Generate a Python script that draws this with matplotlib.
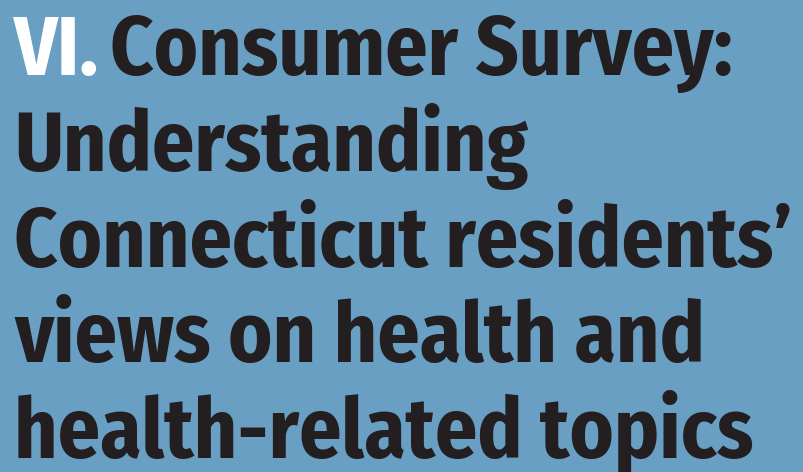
import matplotlib.pyplot as plt

plt.rcParams['font.family'] = ['Fira Sans Condensed', 'Roboto Condensed', 'DejaVu Sans']
plt.rcParams['font.stretch'] = 'condensed'

bg_color = '#6a9fc4'
ink = '#231f20'

section = 'VI.'
title_lines = ['Consumer Survey:',
               'Understanding',
               'Connecticut residents\u2019',
               'views on health and',
               'health-related topics']
baselines = [75, 171, 267, 362, 458]   # pixel rows from top

W, H = 804, 472
fig = plt.figure(figsize=(W / 100, H / 100), dpi=100, facecolor=bg_color)

fs = 60
fig.text(14 / W, 1 - baselines[0] / H, section, color='white', fontsize=fs,
         fontweight='bold', ha='left', va='baseline')
for i, line in enumerate(title_lines):
    x = 110 if i == 0 else 14
    fig.text(x / W, 1 - baselines[i] / H, line, color=ink, fontsize=fs,
             fontweight='bold', ha='left', va='baseline')

fig.savefig('out.png', dpi=100, facecolor=bg_color)
